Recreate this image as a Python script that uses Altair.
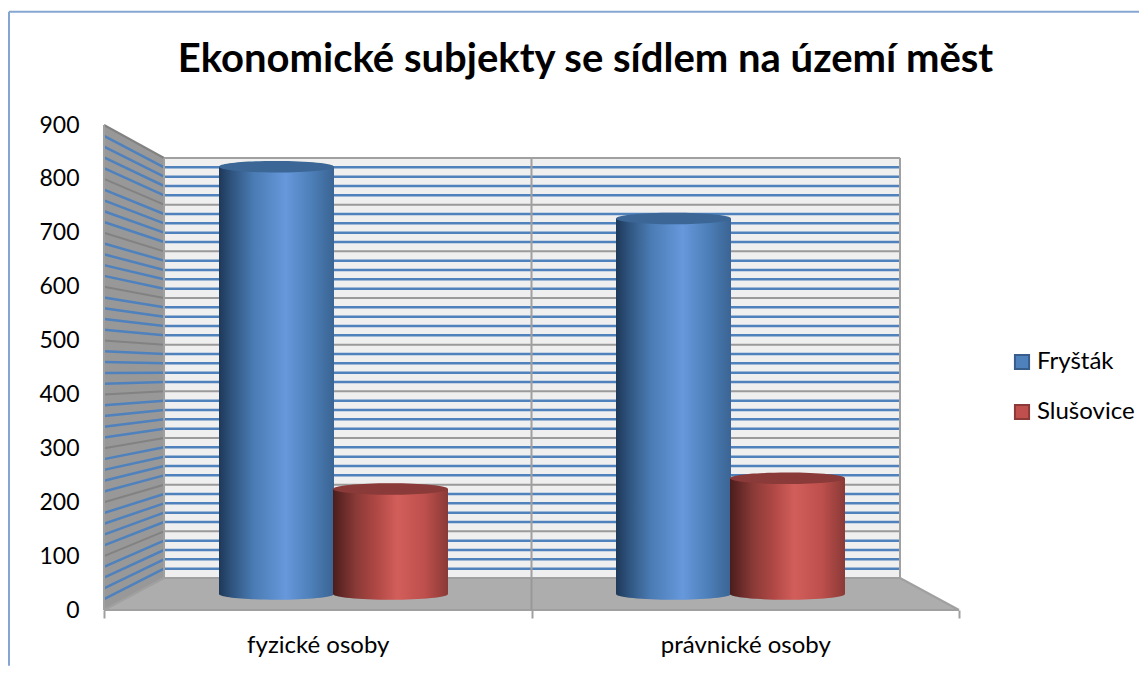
import altair as alt
import pandas as pd

# ---- values
categories = ["fyzické osoby", "právnické osoby"]
series = ["Fryšták", "Slušovice"]
frystak = [850, 747]
slusovice = [209, 230]
title_text = "Ekonomické subjekty se sídlem na území měst"
y_ticks = list(range(0, 901, 100))
grid_levels = list(range(0, 901, 20))

# ---- scene geometry (plot-area pixels, value axis on the front-left edge)
W, H, VMAX = 855, 485, 900
PX = H / VMAX
WALL_X, WALL_R = 60, 796
BACK_BASE, BACK_TOP = 32, 33  # px the back wall is shifted at bottom/top
CYL_W = 115


def proj(v, d):
    """Value v at depth d (0 front, 1 back) expressed on the front axis scale."""
    base = d * BACK_BASE / PX
    top = VMAX - d * BACK_TOP / PX
    return base + v * (top - base) / VMAX


grid_rows = []
for lv in grid_levels:
    kind = "major" if lv % 100 == 0 else "minor"
    grid_rows.append({"lv": lv, "kind": kind, "part": "side", "x": 0, "y": proj(lv, 0)})
    grid_rows.append({"lv": lv, "kind": kind, "part": "side", "x": WALL_X, "y": proj(lv, 1)})
    grid_rows.append({"lv": lv, "kind": kind, "part": "back", "x": WALL_X, "y": proj(lv, 1)})
    grid_rows.append({"lv": lv, "kind": kind, "part": "back", "x": WALL_R, "y": proj(lv, 1)})
grid = pd.DataFrame(grid_rows)

group_left = [115, 512]
cyl_rows = []
for ci, cat in enumerate(categories):
    for si, (name, vals) in enumerate(zip(series, [frystak, slusovice])):
        xl = group_left[ci] + si * (CYL_W - 1)
        cyl_rows.append({
            "category": cat, "series": name, "value": vals[ci],
            "x": xl, "x2": xl + CYL_W, "xc": xl + CYL_W / 2,
            "top": proj(vals[ci], 0.5), "bottom": proj(0, 0.5),
        })
cyl = pd.DataFrame(cyl_rows)

side_wall = pd.DataFrame({"x": [0, WALL_X], "y": [proj(VMAX, 0), proj(VMAX, 1)], "y2": [proj(0, 0), proj(0, 1)]})
back_wall = pd.DataFrame({"x": [WALL_X, WALL_R], "y": [proj(VMAX, 1)] * 2, "y2": [proj(0, 1)] * 2})
floor = pd.DataFrame({"x": [0, WALL_X, WALL_R, W], "y": [proj(0, 0), proj(0, 1), proj(0, 1), proj(0, 0)], "y2": [proj(0, 0)] * 4})

FX0, FX1 = -95, 1035
FY0, FY1 = 1110, -103.6
frame = pd.DataFrame({"x": [FX0, FX0], "x2": [FX0, FX1], "y": [FY1, FY0], "y2": [FY0, FY0]})

x_scale = alt.Scale(domain=[0, W], nice=False, zero=False)
y_scale = alt.Scale(domain=[0, VMAX], nice=False, zero=False)
y_axis = alt.Axis(values=y_ticks, title=None, domain=False, ticks=False, grid=False,
                  labelFont="Lato", labelFontSize=23, labelColor="black", labelPadding=25)
x_q = alt.X("x:Q", scale=x_scale, axis=None)
y_q = alt.Y("y:Q", scale=y_scale, axis=y_axis)


def grad(stops):
    return alt.Gradient(
        gradient="linear", x1=0, x2=1, y1=0, y2=0,
        stops=[alt.GradientStop(offset=o, color=c) for o, c in stops],
    )


blue_grad = grad([(0, "#1E3858"), (0.12, "#305681"), (0.3, "#4A7BB3"), (0.58, "#6698DC"), (0.8, "#4D7FB9"), (1, "#3A6493")])
red_grad = grad([(0, "#4A1D1C"), (0.2, "#8A3A37"), (0.38, "#B04845"), (0.56, "#D25E5A"), (0.8, "#BD4F4C"), (1, "#8A3A37")])
top_colors = {"Fryšták": "#3B6696", "Slušovice": "#8A3A38"}
ELLIPSE = "M-1,0A1,0.1,0,0,0,1,0A1,0.1,0,0,0,-1,0Z"

layers = []

# legend carrier, hidden behind the back wall
legend_layer = alt.Chart(cyl).mark_point(filled=True, shape="square", size=20, opacity=1).encode(
    x=alt.X("xc:Q", scale=x_scale, axis=None),
    y=alt.Y("bottom:Q", scale=y_scale, axis=y_axis),
    fill=alt.Fill("series:N", scale=alt.Scale(domain=series, range=["#4F81BD", "#C0504D"]),
                  legend=alt.Legend(title=None, orient="none", legendX=906, legendY=225,
                                    symbolType="square", symbolSize=200, symbolStrokeWidth=2,
                                    labelFontSize=24, labelFont="Lato", labelColor="black",
                                    rowPadding=26, labelOffset=3, labelLimit=200)),
    stroke=alt.Stroke("series:N", scale=alt.Scale(domain=series, range=["#385D8A", "#8C3A38"])),
)
layers.append(legend_layer)

layers.append(alt.Chart(back_wall).mark_area(color="#EFEFEF").encode(x=x_q, y=y_q, y2="y2:Q"))
layers.append(alt.Chart(side_wall).mark_area(color="#989898").encode(x=x_q, y=y_q, y2="y2:Q"))
layers.append(alt.Chart(floor).mark_area(color="#ADADAD").encode(x=x_q, y=y_q, y2="y2:Q"))

for part, major_col in [("side", "#828282"), ("back", "#9A9A9A")]:
    sub = grid[grid.part == part]
    layers.append(alt.Chart(sub[sub.kind == "minor"]).mark_line(color="#4F81BD", strokeWidth=2.5).encode(x=x_q, y=y_q, detail="lv:Q", order="x:Q"))
    layers.append(alt.Chart(sub[(sub.kind == "major") & (sub.lv > 0)]).mark_line(color=major_col, strokeWidth=2).encode(x=x_q, y=y_q, detail="lv:Q", order="x:Q"))

# wall and floor outlines
mid_x = W / 2
outline = pd.DataFrame({
    "id": ["a", "a", "b", "b", "c", "c", "d", "d", "e", "e", "f", "f", "g", "g", "h", "h", "i", "i"],
    "x": [0, 0, WALL_X, WALL_X, WALL_R, WALL_R, 0, W, 0, WALL_X, WALL_R, W, WALL_X, WALL_R, mid_x, mid_x, WALL_X, WALL_R],
    "y": [proj(0, 0), proj(VMAX, 0), proj(0, 1), proj(VMAX, 1), proj(0, 1), proj(VMAX, 1),
          proj(0, 0), proj(0, 0), proj(0, 0), proj(0, 1), proj(0, 1), proj(0, 0), proj(VMAX, 1), proj(VMAX, 1),
          proj(0, 1), proj(VMAX, 1), proj(0, 1), proj(0, 1)],
    "ord": list(range(18)),
})
layers.append(alt.Chart(outline).mark_line(color="#A0A0A0", strokeWidth=2).encode(x=x_q, y=y_q, detail="id:N", order="ord:Q"))
floor_mid = pd.DataFrame({"id": ["j", "j"], "x": [mid_x, mid_x], "y": [proj(0, 0), proj(0, 1)], "ord": [0, 1]})
layers.append(alt.Chart(floor_mid).mark_line(color="#989898", strokeWidth=2).encode(x=x_q, y=y_q, detail="id:N", order="ord:Q"))

# cylinders
for name, g in [("Fryšták", blue_grad), ("Slušovice", red_grad)]:
    d = cyl[cyl.series == name]
    xc = alt.X("xc:Q", scale=x_scale, axis=None)
    layers.append(alt.Chart(d).mark_point(filled=True, shape=ELLIPSE, size=CYL_W ** 2, fill=g, opacity=1, strokeWidth=0).encode(
        x=xc, y=alt.Y("bottom:Q", scale=y_scale, axis=y_axis)))
    layers.append(alt.Chart(d).mark_bar(fill=g).encode(
        x=alt.X("x:Q", scale=x_scale, axis=None),
        x2="x2:Q",
        y=alt.Y("top:Q", scale=y_scale, axis=y_axis),
        y2="bottom:Q"))
    layers.append(alt.Chart(d).mark_point(filled=True, shape=ELLIPSE, size=CYL_W ** 2, fill=top_colors[name], opacity=1, strokeWidth=0).encode(
        x=xc, y=alt.Y("top:Q", scale=y_scale, axis=y_axis)))

# frame
layers.append(alt.Chart(frame).mark_rule(color="#86A6D2", strokeWidth=2).encode(
    x=x_q, x2="x2:Q", y=y_q, y2="y2:Q"))

# category axis, on its own band scale
cat_df = pd.DataFrame({"category": categories})
cat_layer = alt.Chart(cat_df).mark_rule(opacity=0).encode(
    x=alt.X("category:N", sort=categories, scale=alt.Scale(paddingInner=0, paddingOuter=0),
            axis=alt.Axis(title=None, tickBand="extent", labelAngle=0, domain=False, tickColor="#A0A0A0",
                          tickWidth=2, tickSize=8, labelFont="Lato", labelFontSize=24, labelColor="black",
                          labelPadding=15, grid=False)),
)
layers.append(cat_layer)

chart = alt.layer(*layers).resolve_scale(x="independent").properties(
    width=W, height=H, padding={"left": 0, "top": 2, "right": 0, "bottom": 0},
    title=alt.TitleParams(title_text, font="Lato", fontSize=40, fontWeight="bold", color="black",
                          anchor="middle", dx=54, offset=-69),
    background="white",
).configure_view(stroke=None)

chart.save("out.html", embed_options={"renderer": "svg", "actions": False})
